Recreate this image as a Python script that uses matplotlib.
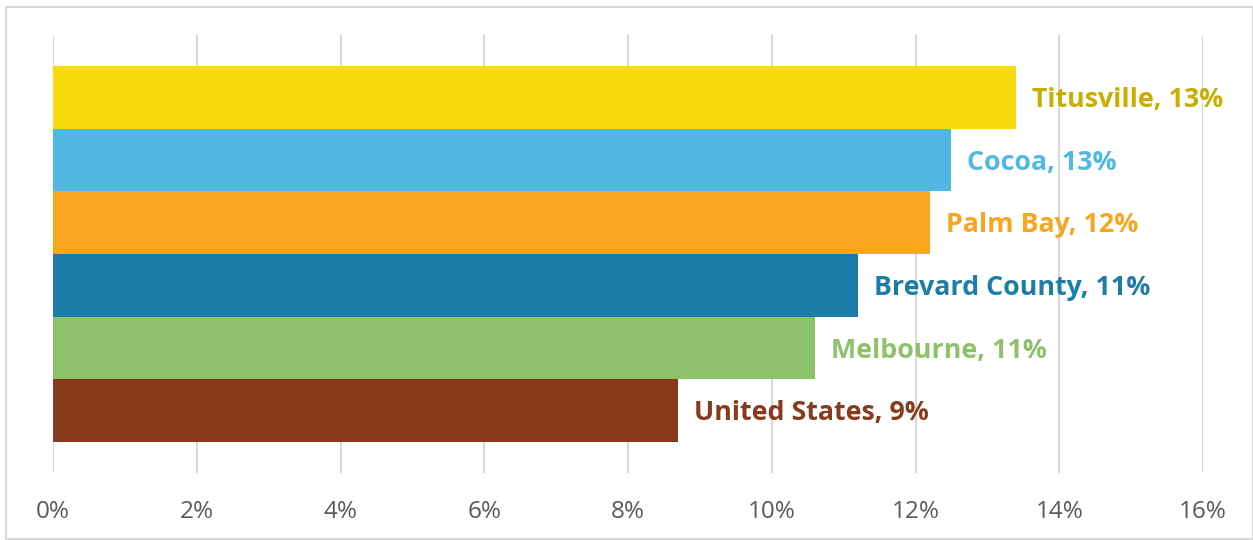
import matplotlib.pyplot as plt
from matplotlib.patches import Rectangle
from matplotlib.ticker import FuncFormatter

places = ["Titusville", "Cocoa", "Palm Bay", "Brevard County", "Melbourne", "United States"]
values = [13.4, 12.5, 12.2, 11.2, 10.6, 8.7]
shown = ["13%", "13%", "12%", "11%", "11%", "9%"]
bar_colors = ["#F9DA0F", "#4FB8E3", "#F7A61E", "#1C7EA8", "#8DC26A", "#883B1C"]
label_colors = ["#C8AE00", "#4FB8E3", "#F7A61E", "#1C7EA8", "#8DC26A", "#883B1C"]

plt.rcParams['font.family'] = ['Open Sans', 'DejaVu Sans']

fig = plt.figure(figsize=(12.53, 5.40), dpi=100)
W, H = 1253, 540
ax = fig.add_axes([53 / W, (540 - 473) / H, (1203 - 53) / W, (473 - 35) / H])

ypos = list(range(len(places)))
ax.barh(ypos, values, height=1.0, color=bar_colors, zorder=2)

for y, v, p, s, c in zip(ypos, values, places, shown, label_colors):
    ax.annotate(f"{p}, {s}", (v, y), xytext=(11.5, -2), textcoords="offset points",
                ha="left", va="center", fontsize=19.3, fontweight="bold", color=c, zorder=3)

ax.set_xlim(0, 16)
ax.set_ylim(5 + 1.0, -1.0)
ax.set_xticks(range(0, 17, 2))
ax.xaxis.set_major_formatter(FuncFormatter(lambda x, _: f"{x:.0f}%"))
ax.set_yticks([])
ax.grid(axis="x", color="#d9d9d9", linewidth=1.5, zorder=0)
ax.set_axisbelow(True)
for sp in ax.spines.values():
    sp.set_visible(False)
ax.tick_params(axis="x", length=0, pad=19.5, labelsize=17.5, labelcolor="#595959")

# outer frame
fig.patches.append(Rectangle((6 / W, 0.002), (W - 6.5) / W, (540 - 8) / H, transform=fig.transFigure,
                             fill=False, edgecolor="#d9d9d9", linewidth=1.5))

fig.savefig("out.png", dpi=100)
